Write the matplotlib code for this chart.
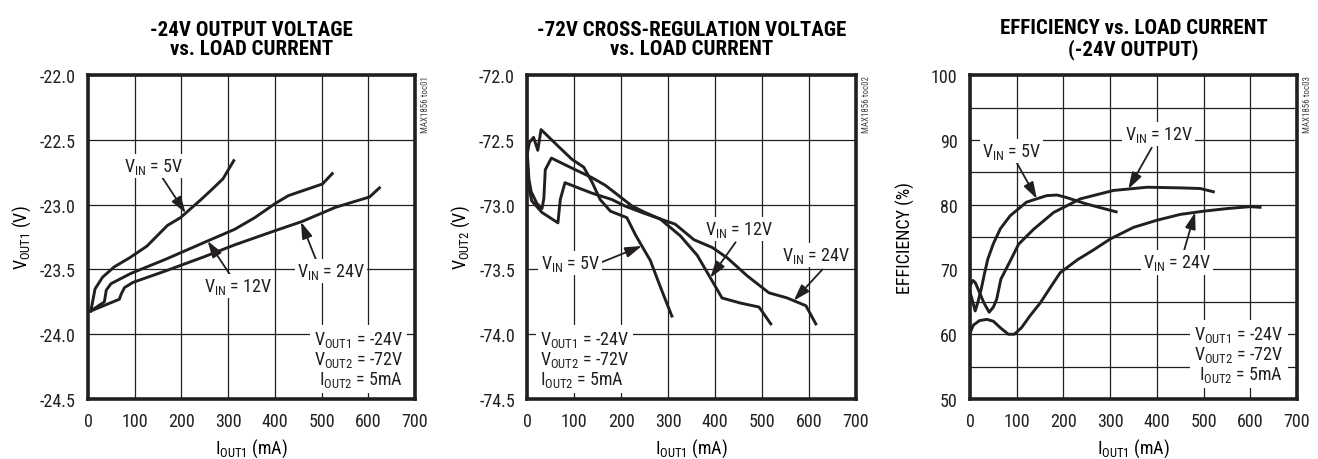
import matplotlib
matplotlib.use('Agg')
import matplotlib.pyplot as plt
import numpy as np

plt.rcParams['font.family'] = ['Roboto Condensed', 'Liberation Sans', 'DejaVu Sans']
plt.rcParams['mathtext.default'] = 'regular'

INK = '#231f20'

# panel 1: -24V output voltage vs load current
vout1_x_5v = [6, 15, 31, 56, 89, 126, 170, 198, 220, 242, 263, 289, 312]
vout1_y_5v = [-23.82, -23.65, -23.56, -23.48, -23.41, -23.32, -23.16, -23.10, -23.03, -22.96, -22.89, -22.80, -22.66]
vout1_x_12v = [6, 35, 39, 49, 92, 167, 256, 314, 357, 401, 429, 502, 523]
vout1_y_12v = [-23.82, -23.75, -23.66, -23.61, -23.53, -23.42, -23.28, -23.19, -23.10, -22.99, -22.93, -22.84, -22.76]
vout1_x_24v = [6, 67, 71, 78, 96, 167, 250, 314, 401, 458, 530, 603, 624]
vout1_y_24v = [-23.82, -23.73, -23.69, -23.64, -23.60, -23.51, -23.40, -23.31, -23.20, -23.13, -23.02, -22.94, -22.87]

# panel 2: -72V cross-regulation voltage vs load current
vout2_x_5v = [0, 4, 13, 22, 29, 66, 95, 120, 137, 155, 177, 212, 230, 241, 262, 283, 308]
vout2_y_5v = [-72.6, -72.52, -72.48, -72.58, -72.42, -72.55, -72.65, -72.71, -72.82, -72.96, -73.05, -73.10, -73.23, -73.30,
              -73.43, -73.63, -73.86]
vout2_x_12v = [0, 3, 8, 20, 31, 35, 38, 51, 102, 137, 166, 191, 223, 251, 283, 326, 362, 391, 415, 455, 494, 519]
vout2_y_12v = [-72.62, -72.8, -72.9, -72.99, -73.03, -72.95, -72.73, -72.64, -72.73, -72.79, -72.85, -72.92, -73.01, -73.06,
               -73.11, -73.24, -73.39, -73.57, -73.72, -73.76, -73.79, -73.92]
vout2_x_24v = [0, 4, 9, 31, 65, 70, 80, 137, 180, 208, 244, 283, 315, 355, 394, 426, 469, 515, 554, 594, 615]
vout2_y_24v = [-72.7, -72.88, -72.97, -73.06, -73.14, -72.96, -72.83, -72.91, -72.96, -73.01, -73.06, -73.11, -73.15, -73.27,
               -73.33, -73.41, -73.55, -73.68, -73.72, -73.78, -73.92]

# panel 3: efficiency vs load current
eff_x_5v = [0, 5, 11, 17, 24, 31, 38, 50, 65, 86, 121, 164, 186, 207, 250, 313]
eff_y_5v = [66.5, 65.2, 63.6, 65.0, 67.0, 69.4, 71.6, 74.0, 76.3, 78.3, 80.4, 81.4, 81.5, 81.1, 80.1, 78.9]
eff_x_12v = [0, 6, 11, 20, 30, 41, 50, 57, 66, 88, 104, 136, 179, 236, 307, 379, 450, 493, 521]
eff_y_12v = [67.5, 68.3, 68.0, 66.5, 64.8, 63.4, 64.2, 65.4, 68.5, 71.6, 73.9, 76.2, 78.8, 80.9, 82.2, 82.7, 82.6, 82.5, 82.0]
eff_x_24v = [0, 7, 20, 36, 50, 65, 82, 95, 110, 129, 150, 170, 193, 230, 264, 300, 350, 400, 450, 500, 550, 600, 621]
eff_y_24v = [60.2, 61.4, 62.1, 62.3, 62.0, 61.0, 60.0, 60.0, 61.0, 62.9, 64.8, 67.0, 69.5, 71.5, 73.0, 74.7, 76.5, 77.6, 78.5,
             79.0, 79.4, 79.7, 79.6]

x_ticks = [0, 100, 200, 300, 400, 500, 600, 700]
cond_text = 'V$_{OUT1}$ = -24V\nV$_{OUT2}$ = -72V\nI$_{OUT2}$ = 5mA'
xlabel_text = 'I$_{OUT1}$ (mA)'
FS = 13


def vin(v):
    return 'V$_{IN}$ = ' + v


def setup_axes(ax, title, ylabel, ylim, yticks, ygrid, yfmt, toc):
    ax.set_xlim(0, 700)
    ax.set_ylim(*ylim)
    ax.set_xticks(x_ticks)
    ax.set_yticks(ygrid, minor=True)
    ax.set_yticks(yticks)
    ax.set_yticklabels([yfmt.format(t) for t in yticks])
    ax.grid(True, which='both', color=INK, lw=0.9)
    ax.tick_params(which='both', length=0, labelsize=FS, pad=9, colors=INK)
    for s in ax.spines.values():
        s.set_linewidth(2.6)
        s.set_color(INK)
    ax.set_axisbelow(True)
    ax.set_title(title, fontsize=15, fontweight='black', pad=15, linespacing=1.05)
    ax.set_xlabel(xlabel_text, fontsize=FS)
    ax.set_ylabel(ylabel, fontsize=FS)
    ax.xaxis.set_label_coords(0.5, -0.115)
    ax.yaxis.set_label_coords(-0.168, 0.5)
    ax.text(1.018, 1.0, 'MAX1856 toc0' + toc, transform=ax.transAxes, rotation=90,
            ha='left', va='top', fontsize=6.5, color='#444444')


def label(ax, text, pos, tail, tip_x, xs, ys):
    tip = (tip_x, np.interp(tip_x, xs, ys))
    ax.annotate('', xy=tip, xytext=tail,
                arrowprops=dict(arrowstyle='-|>,head_length=0.5,head_width=0.16', mutation_scale=20,
                                color=INK, lw=1.3, shrinkA=0, shrinkB=0))
    ax.text(pos[0], pos[1], text, ha='center', va='center', fontsize=FS, color=INK,
            bbox=dict(fc='white', ec='none', pad=1.5))


fig = plt.figure(figsize=(13.18, 4.6), dpi=100)
ax1 = fig.add_axes([0.0668, 0.1304, 0.248, 0.704])
ax2 = fig.add_axes([0.4002, 0.1304, 0.249, 0.704])
ax3 = fig.add_axes([0.7360, 0.1304, 0.248, 0.704])

# panel 1
setup_axes(ax1, '-24V OUTPUT VOLTAGE\nvs. LOAD CURRENT', 'V$_{OUT1}$ (V)', (-24.5, -22.0),
           np.arange(-24.5, -21.9, 0.5), [], '{:.1f}', '1')
for xs, ys in [(vout1_x_5v, vout1_y_5v), (vout1_x_12v, vout1_y_12v), (vout1_x_24v, vout1_y_24v)]:
    ax1.plot(xs, ys, color=INK, lw=2.1, solid_joinstyle='round')
label(ax1, vin('5V'), (141, -22.70), (159, -22.79), 209, vout1_x_5v, vout1_y_5v)
label(ax1, vin('12V'), (321, -23.63), (306, -23.55), 256, vout1_x_12v, vout1_y_12v)
label(ax1, vin('24V'), (520, -23.51), (491, -23.45), 456, vout1_x_24v, vout1_y_24v)
ax1.text(675, -24.19, cond_text, ha='right', va='center', fontsize=FS, color=INK, multialignment='right',
         linespacing=1.0, bbox=dict(fc='white', ec='none', pad=3))

# panel 2
setup_axes(ax2, '-72V CROSS-REGULATION VOLTAGE\nvs. LOAD CURRENT', 'V$_{OUT2}$ (V)', (-74.5, -72.0),
           np.arange(-74.5, -71.9, 0.5), [], '{:.1f}', '2')
for xs, ys in [(vout2_x_5v, vout2_y_5v), (vout2_x_12v, vout2_y_12v), (vout2_x_24v, vout2_y_24v)]:
    ax2.plot(xs, ys, color=INK, lw=2.1, solid_joinstyle='round')
label(ax2, vin('5V'), (91, -73.45), (154, -73.45), 244, vout2_x_5v, vout2_y_5v)
label(ax2, vin('12V'), (451, -73.19), (444, -73.29), 390, vout2_x_12v, vout2_y_12v)
label(ax2, vin('24V'), (615, -73.39), (629, -73.50), 568, vout2_x_24v, vout2_y_24v)
ax2.text(27, -74.19, cond_text, ha='left', va='center', fontsize=FS, color=INK, multialignment='left',
         linespacing=1.0, bbox=dict(fc='white', ec='none', pad=3))

# panel 3
setup_axes(ax3, 'EFFICIENCY vs. LOAD CURRENT\n(-24V OUTPUT)', 'EFFICIENCY (%)', (50, 100),
           np.arange(50, 101, 10), np.arange(55, 100, 10), '{:.0f}', '3')
for xs, ys in [(eff_x_5v, eff_y_5v), (eff_x_12v, eff_y_12v), (eff_x_24v, eff_y_24v)]:
    ax3.plot(xs, ys, color=INK, lw=2.1, solid_joinstyle='round')
label(ax3, vin('5V'), (89, 88.3), (96, 87.0), 143, eff_x_5v, eff_y_5v)
label(ax3, vin('12V'), (404, 90.9), (389, 88.8), 339, eff_x_12v, eff_y_12v)
label(ax3, vin('24V'), (443, 71.1), (457, 72.6), 482, eff_x_24v, eff_y_24v)
ax3.text(671, 56.9, cond_text, ha='right', va='center', fontsize=FS, color=INK, multialignment='right',
         linespacing=1.0, bbox=dict(fc='white', ec='none', pad=3))

fig.savefig('out.png', dpi=100)
